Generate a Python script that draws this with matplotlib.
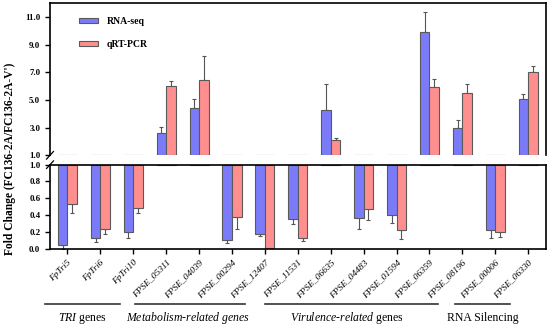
import matplotlib
matplotlib.use("Agg")
import matplotlib.pyplot as plt
import numpy as np
from matplotlib.transforms import blended_transform_factory

plt.rcParams['font.family'] = ['Liberation Serif', 'DejaVu Serif']
plt.rcParams['mathtext.fontset'] = 'custom'
plt.rcParams['mathtext.rm'] = 'Liberation Serif'
plt.rcParams['mathtext.it'] = 'Liberation Serif:italic'

genes = ["FpTri5", "FpTri6", "FpTri10", "FPSE_05311", "FPSE_04039", "FPSE_00294",
         "FPSE_12407", "FPSE_11531", "FPSE_06635", "FPSE_04483", "FPSE_01594",
         "FPSE_06359", "FPSE_08196", "FPSE_00006", "FPSE_06330"]
rnaseq = [0.04, 0.13, 0.195, 2.58, 4.43, 0.10, 0.18, 0.35, 4.31, 0.36, 0.40,
          9.89, 2.94, 0.22, 5.10]
rnaseq_err = [0.04, 0.05, 0.07, 0.46, 0.62, 0.03, 0.03, 0.05, 1.87, 0.12, 0.10,
              1.47, 0.60, 0.09, 0.36]
qrtpcr = [0.53, 0.23, 0.49, 6.04, 6.42, 0.38, 0.005, 0.124, 2.08, 0.476, 0.22,
          5.96, 5.50, 0.195, 7.01]
qrtpcr_err = [0.11, 0.05, 0.07, 0.36, 1.75, 0.15, 0.0, 0.03, 0.20, 0.14, 0.11,
              0.58, 0.63, 0.06, 0.46]
upper_ticks = [1.0, 3.0, 5.0, 7.0, 9.0, 11.0]
lower_ticks = [0.0, 0.2, 0.4, 0.6, 0.8, 1.0]
groups = [(r"$\mathit{TRI}$ genes", -0.68, 1.6, 0.47),
          (r"$\mathit{Metabolism\text{-}related\ genes}$", 2.05, 5.4, 3.66),
          (r"$\mathit{Virulence\text{-}related}$ genes", 6.0, 11.26, 8.5),
          ("RNA Silencing", 11.78, 13.45, 12.63)]

blue = '#7B7BFA'
red = '#FF8F8F'
edge = '#5A5A5A'

W, H = 550, 327
fig = plt.figure(figsize=(5.5, 3.27), dpi=100)
L = 50 / W
R = 546 / W
ax_up = fig.add_axes([L, 1 - 155.3 / H, R - L, (155.3 - 3.3) / H])
ax_lo = fig.add_axes([L, 1 - 248.7 / H, R - L, (248.7 - 164.7) / H])

x = np.arange(len(genes))
w = 0.29
r = np.array(rnaseq)
q = np.array(qrtpcr)
re = np.array(rnaseq_err)
qe = np.array(qrtpcr_err)

for ax in (ax_up, ax_lo):
    ax.bar(x - w / 2, r - 1, width=w, bottom=1, color=blue, edgecolor=edge,
           linewidth=0.8, label='RNA-seq', zorder=2)
    ax.bar(x + w / 2, q - 1, width=w, bottom=1, color=red, edgecolor=edge,
           linewidth=0.8, label='qRT-PCR', zorder=2)
    # one-sided error bars away from baseline 1
    for xs, vals, errs in ((x - w / 2, r, re), (x + w / 2, q, qe)):
        lo_err = np.where(vals < 1, errs, 0)
        hi_err = np.where(vals >= 1, errs, 0)
        mask = errs > 0
        ax.errorbar(xs[mask], vals[mask], yerr=[lo_err[mask], hi_err[mask]],
                    fmt='none', ecolor='#555555', elinewidth=0.8, capsize=1.2,
                    capthick=0.8, zorder=1)
    ax.set_xlim(-0.53, 14.54)
    for s in ax.spines.values():
        s.set_linewidth(1.2)
    ax.tick_params(axis='both', direction='out', length=3.5, width=1.0, labelsize=6.3)

ax_up.set_ylim(1, 12)
ax_up.set_yticks(upper_ticks)
ax_up.set_yticklabels([f"{t:.1f}" for t in upper_ticks], fontweight='bold')
ax_up.spines['bottom'].set_visible(False)
ax_up.set_xticks([])

ax_lo.set_ylim(0, 1)
ax_lo.set_yticks(lower_ticks)
ax_lo.set_yticklabels([f"{t:.1f}" for t in lower_ticks], fontweight='bold')
ax_lo.set_xticks(x)
ax_lo.set_xticklabels(genes, rotation=45, ha='right', rotation_mode='anchor',
                      fontstyle='italic', fontsize=6.8)

# break marks
kw = dict(color='k', clip_on=False, linewidth=0.9)
ax_up.plot((-0.007, 0.007), (-0.025, 0.025), transform=ax_up.transAxes, **kw)
ax_lo.plot((-0.007, 0.007), (1 - 0.045, 1 + 0.045), transform=ax_lo.transAxes, **kw)

leg = ax_up.legend(loc='upper left', bbox_to_anchor=(0.04, 0.97), frameon=False,
                   prop={'weight': 'bold', 'size': 7}, handlelength=2.0,
                   handleheight=0.45, labelspacing=1.5, handletextpad=0.9)

# group annotations
tr = blended_transform_factory(ax_lo.transData, ax_lo.transAxes)
for label, x0, x1, xc in groups:
    ax_lo.plot([x0, x1], [-0.658, -0.658], transform=tr, color='#333333',
               linewidth=1.2, clip_on=False)
    ax_lo.text(xc, -0.83, label, transform=tr, ha='center', va='center', fontsize=8.5)

fig.text(10 / W, 1 - 159 / H, "Fold Change (FC136-2A/FC136-2A-V')", rotation=90,
         ha='center', va='center', fontsize=8.3, fontweight='bold')

fig.savefig('out.png', dpi=100)
